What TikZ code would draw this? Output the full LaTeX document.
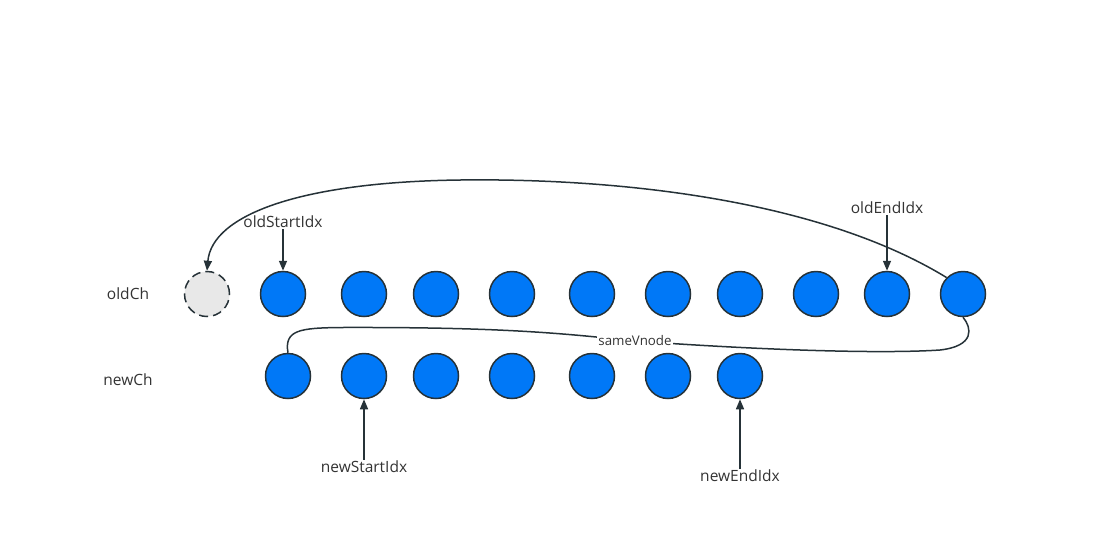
\documentclass[tikz,border=0pt]{standalone}
\usepackage{fontspec}
\setmainfont{Open Sans}
\usetikzlibrary{arrows.meta}
\definecolor{ballblue}{HTML}{0078F7}
\definecolor{edge}{HTML}{263238}
\definecolor{txt}{HTML}{333333}
\begin{document}
\begin{tikzpicture}[x=1pt,y=-1pt,
  ball/.style={circle,draw=edge,line width=1.5pt,fill=ballblue,minimum size=45pt,inner sep=0pt},
  ghost/.style={circle,draw=edge,line width=1.5pt,dash pattern=on 9pt off 5pt,fill=gray!18,minimum size=45pt,inner sep=0pt},
  lbl/.style={text=txt,font=\fontsize{15.5}{18}\selectfont,inner sep=1pt},
  conn/.style={draw=edge,line width=1.5pt},
  tip/.style={-{Triangle[length=10pt,width=8pt]}}]
\useasboundingbox (0,0) rectangle (1099,547);
% old row
\node[ghost] (o0) at (207,294) {};
\foreach \i/\x in {1/283,2/364,3/436,4/512,5/592,6/668,7/740,8/816,9/887,10/963}
  \node[ball] (o\i) at (\x,294) {};
% new row
\foreach \i/\x in {1/288,2/364,3/436,4/512,5/592,6/668,7/740}
  \node[ball] (n\i) at (\x,376) {};
% row labels
\node[lbl] (oldch) at (128,294) {oldCh};
\node[lbl] (newch) at (128,380) {newCh};
% index labels
\node[lbl] (osi) at (283,222) {oldStartIdx};
\node[lbl] (oei) at (887,208) {oldEndIdx};
\node[lbl] (nsi) at (364,467) {newStartIdx};
\node[lbl] (nei) at (740,476) {newEndIdx};
\draw[conn,tip] (osi.south) -- (o1.north);
\draw[conn,tip] (oei.south) -- (o9.north);
\draw[conn,tip] (nsi.north) -- (n2.south);
\draw[conn,tip] (nei.north) -- (n7.south);
% move curve
\draw[conn,tip] (o10.north west) .. controls (820,200) and (620,178) .. (460,180)
  .. controls (300,182) and (212,215) .. (o0.north);
% sameVnode curve
\draw[conn] (n1.north) .. controls (284,330) and (300,328) .. (340,327.5)
  .. controls (500,327) and (560,333) .. (635,341)
  node[fill=white,text=txt,font=\fontsize{13.3}{16}\selectfont,inner sep=1pt] (sv) {sameVnode}
  .. controls (760,350) and (880,354) .. (940,350)
  .. controls (975,346) and (972,328) .. (o10.south);
\end{tikzpicture}
\end{document}
